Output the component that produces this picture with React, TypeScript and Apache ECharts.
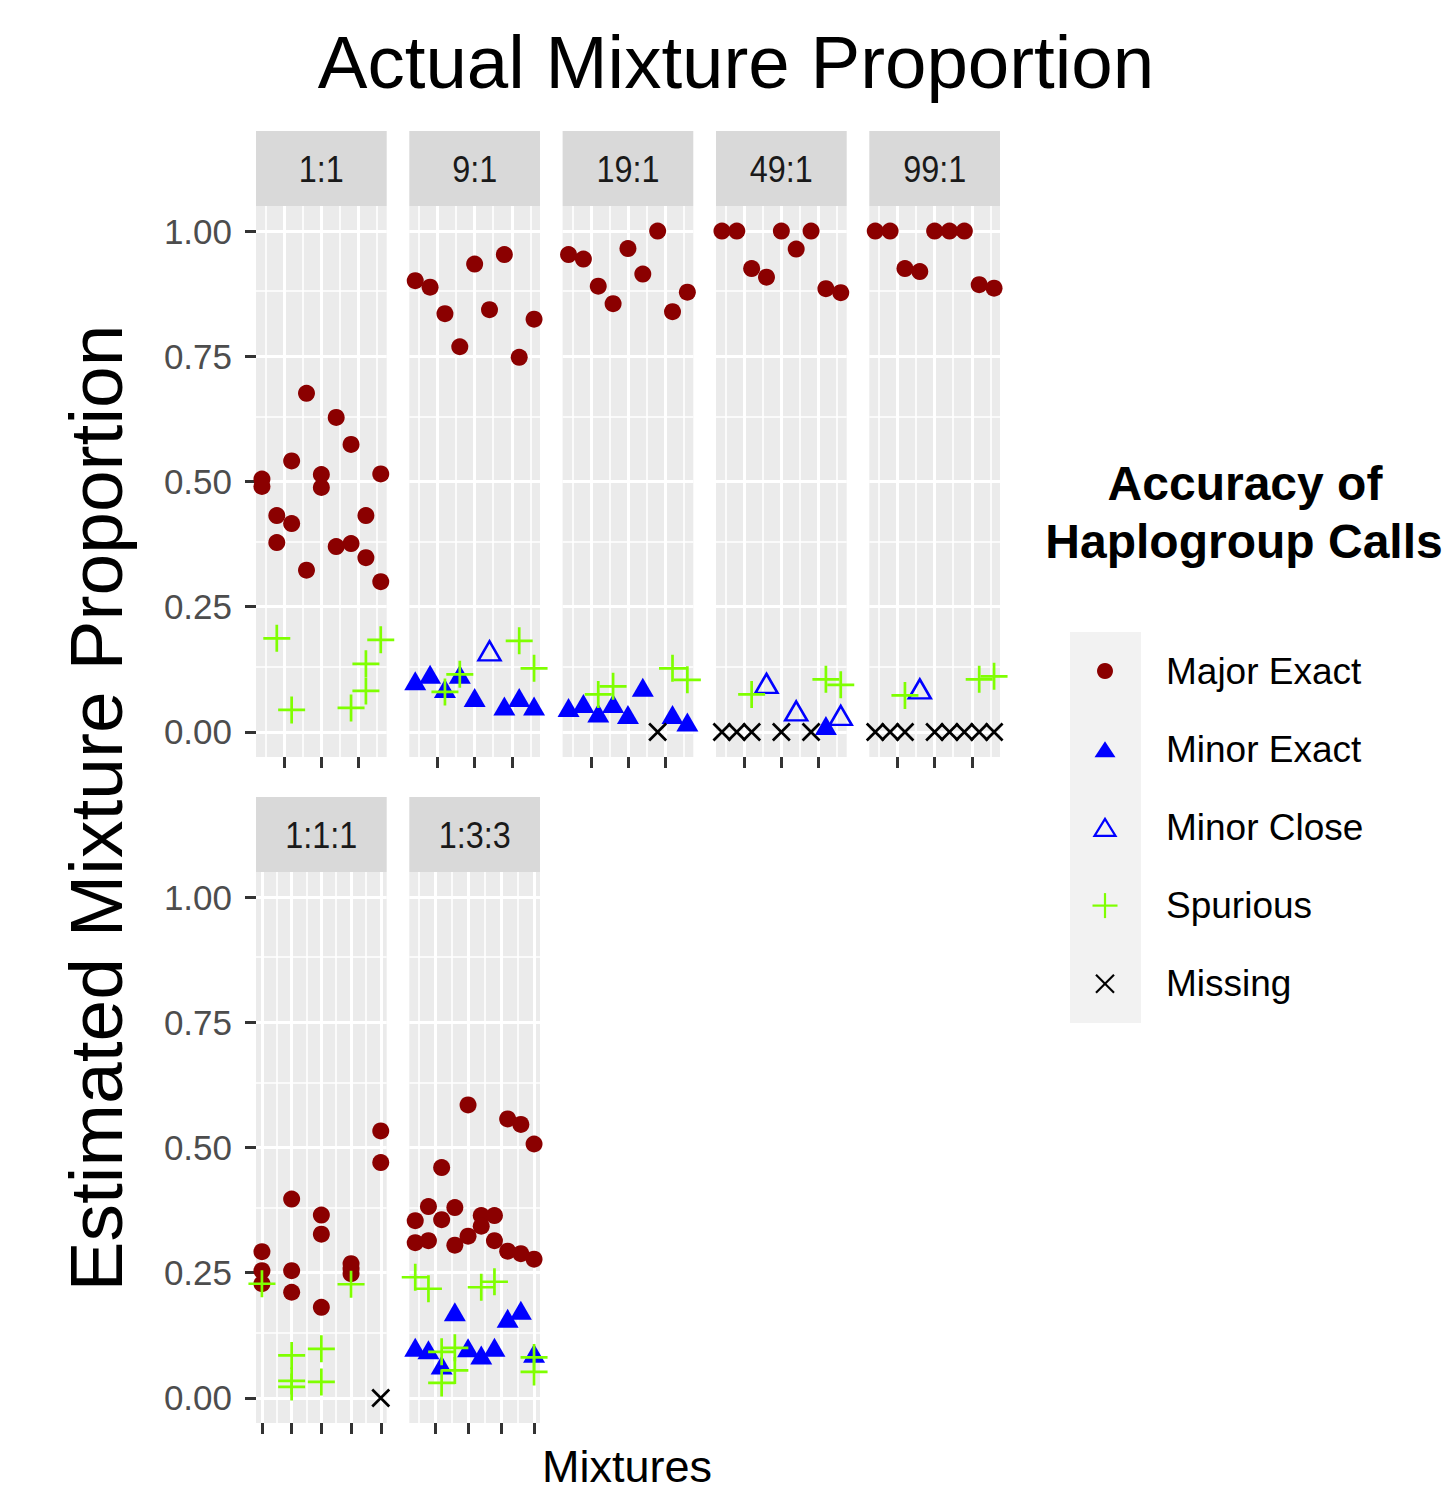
import React, { useEffect, useRef } from "react";
import * as echarts from "echarts";

// ---------------- DATA ----------------
const panelNames = ["1:1", "9:1", "19:1", "49:1", "99:1", "1:1:1", "1:3:3"];
const categories = ["Major Exact", "Minor Exact", "Minor Close", "Spurious", "Missing"];
const yBreaks = [0, 0.25, 0.5, 0.75, 1];
const yMinorBreaks = [0.125, 0.375, 0.625, 0.875];
const xBreaksTop = [2.5, 5, 7.5];
const xMinorTop = [1.25, 3.75, 6.25, 8.75];
const xBreaks111 = [1, 2, 3, 4, 5];
const xMinor111 = [1.5, 2.5, 3.5, 4.5];
const xBreaks133 = [2.5, 5, 7.5, 10];
const xMinor133 = [1.25, 3.75, 6.25, 8.75];

// Each array is indexed by mixture (x = 1..n); each entry lists the estimated proportions.
// 1:1
const major_1_1 = [[0.505, 0.49], [0.432, 0.378], [0.541, 0.416], [0.676, 0.323], [0.514, 0.488], [0.628, 0.37], [0.574, 0.376], [0.432, 0.348], [0.515, 0.3]];
const minorExact_1_1 = [[], [], [], [], [], [], [], [], []];
const minorClose_1_1 = [[], [], [], [], [], [], [], [], []];
const spurious_1_1 = [[], [0.187], [0.044], [], [], [], [0.048], [0.136, 0.082], [0.184]];
const missing_1_1 = [[], [], [], [], [], [], [], [], []];
// 9:1
const major_9_1 = [[0.901], [0.888], [0.835], [0.769], [0.934], [0.843], [0.953], [0.748], [0.824]];
const minorExact_9_1 = [[0.102], [0.115], [0.087], [0.115], [0.069], [], [0.052], [0.069], [0.052]];
const minorClose_9_1 = [[], [], [], [], [], [0.162], [], [], []];
const spurious_9_1 = [[], [], [0.08], [0.115], [], [], [], [0.182], [0.127]];
const missing_9_1 = [[], [], [], [], [], [], [], [], []];
// 19:1
const major_19_1 = [[0.953], [0.944], [0.89], [0.855], [0.965], [0.914], [1.0], [0.839], [0.878]];
const minorExact_19_1 = [[0.049], [0.057], [0.038], [0.057], [0.035], [0.089], [], [0.035], [0.02]];
const minorClose_19_1 = [[], [], [], [], [], [], [], [], []];
const spurious_19_1 = [[], [], [0.075], [0.091], [], [], [], [0.127], [0.104]];
const missing_19_1 = [[], [], [], [], [], [], [0], [], []];
// 49:1
const major_49_1 = [[1.0], [1.0], [0.925], [0.908], [1.0], [0.964], [1.0], [0.885], [0.877]];
const minorExact_49_1 = [[], [], [], [], [], [], [], [0.013], []];
const minorClose_49_1 = [[], [], [], [0.097], [], [0.042], [], [], [0.033]];
const spurious_49_1 = [[], [], [0.075], [], [], [], [], [0.105], [0.094]];
const missing_49_1 = [[0], [0], [0], [], [0], [], [0], [], []];
// 99:1
const major_99_1 = [[1.0], [1.0], [0.925], [0.919], [1.0], [1.0], [1.0], [0.893], [0.886]];
const minorExact_99_1 = [[], [], [], [], [], [], [], [], []];
const minorClose_99_1 = [[], [], [], [0.086], [], [], [], [], []];
const spurious_99_1 = [[], [], [0.073], [], [], [], [], [0.105], [0.111]];
const missing_99_1 = [[0], [0], [0], [], [0], [0], [0], [0], [0]];
// 1:1:1
const major_1_1_1 = [[0.292, 0.254, 0.228], [0.397, 0.254, 0.211], [0.365, 0.327, 0.181], [0.268, 0.258, 0.248], [0.533, 0.47]];
const minorExact_1_1_1 = [[], [], [], [], []];
const minorClose_1_1_1 = [[], [], [], [], []];
const spurious_1_1_1 = [[0.228], [0.085, 0.034, 0.022], [0.098, 0.032], [0.227], []];
const missing_1_1_1 = [[], [], [], [], [0]];
// 1:3:3
const major_1_3_3 = [[0.354, 0.31], [0.382, 0.314], [0.46, 0.356], [0.38, 0.305], [0.585, 0.323], [0.364, 0.343], [0.364, 0.314], [0.557, 0.293], [0.546, 0.288], [0.507, 0.277]];
const minorExact_1_3_3 = [[0.101], [0.096], [0.066], [0.172], [0.1], [0.086], [0.101], [0.159], [0.175], [0.089]];
const minorClose_1_3_3 = [[], [], [], [], [], [], [], [], [], []];
const spurious_1_3_3 = [[0.241], [0.218], [0.092, 0.03], [0.1, 0.055], [], [0.221], [0.232], [], [], [0.081, 0.052]];
const missing_1_3_3 = [[], [], [], [], [], [], [], [], [], []];

const panelData = [
  [major_1_1, minorExact_1_1, minorClose_1_1, spurious_1_1, missing_1_1],
  [major_9_1, minorExact_9_1, minorClose_9_1, spurious_9_1, missing_9_1],
  [major_19_1, minorExact_19_1, minorClose_19_1, spurious_19_1, missing_19_1],
  [major_49_1, minorExact_49_1, minorClose_49_1, spurious_49_1, missing_49_1],
  [major_99_1, minorExact_99_1, minorClose_99_1, spurious_99_1, missing_99_1],
  [major_1_1_1, minorExact_1_1_1, minorClose_1_1_1, spurious_1_1_1, missing_1_1_1],
  [major_1_3_3, minorExact_1_3_3, minorClose_1_3_3, spurious_1_3_3, missing_1_3_3],
];
const panelXBreaks = [xBreaksTop, xBreaksTop, xBreaksTop, xBreaksTop, xBreaksTop, xBreaks111, xBreaks133];
const panelXMinor = [xMinorTop, xMinorTop, xMinorTop, xMinorTop, xMinorTop, xMinor111, xMinor133];

// ---------------- LAYOUT ----------------
const FONT = "'Liberation Sans', Arial, sans-serif";
const COL_LEFTS = [256, 409.3, 562.6, 716, 869.3];
const ROW_TOPS = [206, 872];
const PANEL_W = 130.7;
const PANEL_H = 551;
const STRIP_H = 75;
const panelPos = [
  [0, 0], [1, 0], [2, 0], [3, 0], [4, 0], [0, 1], [1, 1],
];

const CROSS = "path://M5,0L5,10M0,5L10,5";
const XMARK = "path://M0,0L10,10M10,0L0,10";

const toPoints = (arr: number[][]) => {
  const out: number[][] = [];
  arr.forEach((ys, i) => ys.forEach((y) => out.push([i + 1, y])));
  return out;
};

function buildOption() {
  const grid: any[] = [];
  const xAxis: any[] = [];
  const yAxis: any[] = [];
  const series: any[] = [];
  const graphic: any[] = [];

  panelNames.forEach((name, i) => {
    const [c, r] = panelPos[i];
    const left = COL_LEFTS[c];
    const top = ROW_TOPS[r];
    const n = panelData[i][0].length;
    const pad = 0.05 * (n - 1);
    const showY = c === 0;
    grid.push({
      left, top, width: PANEL_W, height: PANEL_H,
      show: true, backgroundColor: "#EBEBEB", borderWidth: 0,
    });
    xAxis.push({
      gridIndex: i, type: "value", min: 1 - pad, max: n + pad, position: "bottom",
      axisLine: { show: false, onZero: false }, axisLabel: { show: false }, splitLine: { show: false },
      axisTick: { show: true, customValues: panelXBreaks[i], length: 11, lineStyle: { color: "#333333", width: 3 } },
    });
    yAxis.push({
      gridIndex: i, type: "value", min: -0.05, max: 1.05, position: "left",
      axisLine: { show: false, onZero: false }, splitLine: { show: false },
      axisTick: { show: showY, customValues: yBreaks, length: 11, lineStyle: { color: "#333333", width: 3 } },
      axisLabel: {
        show: showY, customValues: yBreaks, formatter: (v: number) => v.toFixed(2),
        fontSize: 35, color: "#4D4D4D", margin: 24, fontFamily: FONT,
      },
    });
    // gridlines
    const lines: any[] = [];
    panelXMinor[i].forEach((v) => lines.push({ xAxis: v, lineStyle: { width: 1.6 } }));
    yMinorBreaks.forEach((v) => lines.push({ yAxis: v, lineStyle: { width: 1.6 } }));
    panelXBreaks[i].forEach((v) => lines.push({ xAxis: v, lineStyle: { width: 3 } }));
    yBreaks.forEach((v) => lines.push({ yAxis: v, lineStyle: { width: 3 } }));
    series.push({
      type: "line", xAxisIndex: i, yAxisIndex: i, data: [], silent: true, z: 1,
      markLine: {
        z: 1, silent: true, symbol: ["none", "none"], label: { show: false },
        lineStyle: { color: "#FFFFFF", type: "solid" }, emphasis: { disabled: true },
        data: lines,
      },
    });
    const d = panelData[i];
    series.push({
      name: categories[0], type: "scatter", xAxisIndex: i, yAxisIndex: i, z: 6, silent: true,
      data: toPoints(d[0]), symbol: "circle", symbolSize: 17,
      itemStyle: { color: "#8B0000", opacity: 1 },
    });
    series.push({
      name: categories[1], type: "scatter", xAxisIndex: i, yAxisIndex: i, z: 6, silent: true,
      data: toPoints(d[1]), symbol: "triangle", symbolSize: [22, 19],
      itemStyle: { color: "#0000FF", opacity: 1 },
    });
    series.push({
      name: categories[2], type: "scatter", xAxisIndex: i, yAxisIndex: i, z: 6, silent: true,
      data: toPoints(d[2]), symbol: "triangle", symbolSize: [22, 19],
      itemStyle: { color: "rgba(0,0,0,0)", borderColor: "#0000FF", borderWidth: 2.5, opacity: 1 },
    });
    series.push({
      name: categories[3], type: "scatter", xAxisIndex: i, yAxisIndex: i, z: 7, silent: true,
      data: toPoints(d[3]), symbol: CROSS, symbolSize: 27,
      itemStyle: { color: "rgba(0,0,0,0)", borderColor: "#7FFF00", borderWidth: 2.7, opacity: 1 },
    });
    series.push({
      name: categories[4], type: "scatter", xAxisIndex: i, yAxisIndex: i, z: 7, silent: true,
      data: toPoints(d[4]), symbol: XMARK, symbolSize: 17,
      itemStyle: { color: "rgba(0,0,0,0)", borderColor: "#000000", borderWidth: 2.7, opacity: 1 },
    });
    // strip
    graphic.push({
      type: "rect", shape: { x: left, y: top - STRIP_H, width: PANEL_W, height: STRIP_H },
      style: { fill: "#D9D9D9" }, silent: true,
    });
    graphic.push({
      type: "text", x: left + PANEL_W / 2, y: top - STRIP_H / 2, scaleX: 0.9, scaleY: 1.05,
      style: { text: name, fontSize: 36, fill: "#1A1A1A", fontFamily: FONT, align: "center", verticalAlign: "middle" },
      silent: true,
    });
  });

  // titles
  graphic.push({
    type: "text", x: 736, y: 62,
    style: { text: "Actual Mixture Proportion", fontSize: 74.5, fill: "#000", fontFamily: FONT, align: "center", verticalAlign: "middle" },
  });
  graphic.push({
    type: "text", x: 96, y: 808, rotation: Math.PI / 2,
    style: { text: "Estimated Mixture Proportion", fontSize: 75, fill: "#000", fontFamily: FONT, align: "center", verticalAlign: "middle" },
  });
  graphic.push({
    type: "text", x: 627, y: 1466,
    style: { text: "Mixtures", fontSize: 45, fill: "#000", fontFamily: FONT, align: "center", verticalAlign: "middle" },
  });

  // legend
  const LX = 1105;
  const LY0 = 671;
  const LSTEP = 78.2;
  graphic.push({
    type: "text", x: 1245, y: 483,
    style: { text: "Accuracy of", fontSize: 48, fontWeight: "bold", fill: "#000", fontFamily: FONT, align: "center", verticalAlign: "middle" },
  });
  graphic.push({
    type: "text", x: 1244, y: 541,
    style: { text: "Haplogroup Calls", fontSize: 48, fontWeight: "bold", fill: "#000", fontFamily: FONT, align: "center", verticalAlign: "middle" },
  });
  graphic.push({
    type: "rect", shape: { x: 1070, y: LY0 - LSTEP / 2, width: 71, height: LSTEP * 5 },
    style: { fill: "#F2F2F2" },
  });
  graphic.push({ type: "circle", shape: { cx: LX, cy: LY0, r: 8 }, style: { fill: "#8B0000" } });
  const y1 = LY0 + LSTEP;
  graphic.push({
    type: "polygon", shape: { points: [[LX, y1 - 8], [LX - 10.5, y1 + 8], [LX + 10.5, y1 + 8]] },
    style: { fill: "#0000FF" },
  });
  const y2 = LY0 + LSTEP * 2;
  graphic.push({
    type: "polygon", shape: { points: [[LX, y2 - 8.5], [LX - 10.5, y2 + 8.5], [LX + 10.5, y2 + 8.5]] },
    style: { fill: "none", stroke: "#0000FF", lineWidth: 2.2 },
  });
  const y3 = LY0 + LSTEP * 3;
  graphic.push({ type: "line", shape: { x1: LX - 12.5, y1: y3, x2: LX + 12.5, y2: y3 }, style: { stroke: "#7FFF00", lineWidth: 2.2 } });
  graphic.push({ type: "line", shape: { x1: LX, y1: y3 - 12.5, x2: LX, y2: y3 + 12.5 }, style: { stroke: "#7FFF00", lineWidth: 2.2 } });
  const y4 = LY0 + LSTEP * 4;
  graphic.push({ type: "line", shape: { x1: LX - 9, y1: y4 - 9, x2: LX + 9, y2: y4 + 9 }, style: { stroke: "#000", lineWidth: 2.2 } });
  graphic.push({ type: "line", shape: { x1: LX + 9, y1: y4 - 9, x2: LX - 9, y2: y4 + 9 }, style: { stroke: "#000", lineWidth: 2.2 } });
  categories.forEach((c, k) => {
    graphic.push({
      type: "text", x: 1166, y: LY0 + LSTEP * k,
      style: { text: c, fontSize: 37, fill: "#000", fontFamily: FONT, align: "left", verticalAlign: "middle" },
    });
  });

  return {
    animation: false,
    backgroundColor: "#FFFFFF",
    grid, xAxis, yAxis, series, graphic,
  };
}

export default function App() {
  const ref = useRef<HTMLDivElement>(null);
  useEffect(() => {
    if (!ref.current) return;
    const chart = echarts.init(ref.current, null, { renderer: "svg" });
    chart.setOption(buildOption() as any);
    return () => chart.dispose();
  }, []);
  return (
    <div
      ref={ref}
      style={{ position: "absolute", left: 0, top: 0, width: 1442, height: 1494 }}
    />
  );
}
